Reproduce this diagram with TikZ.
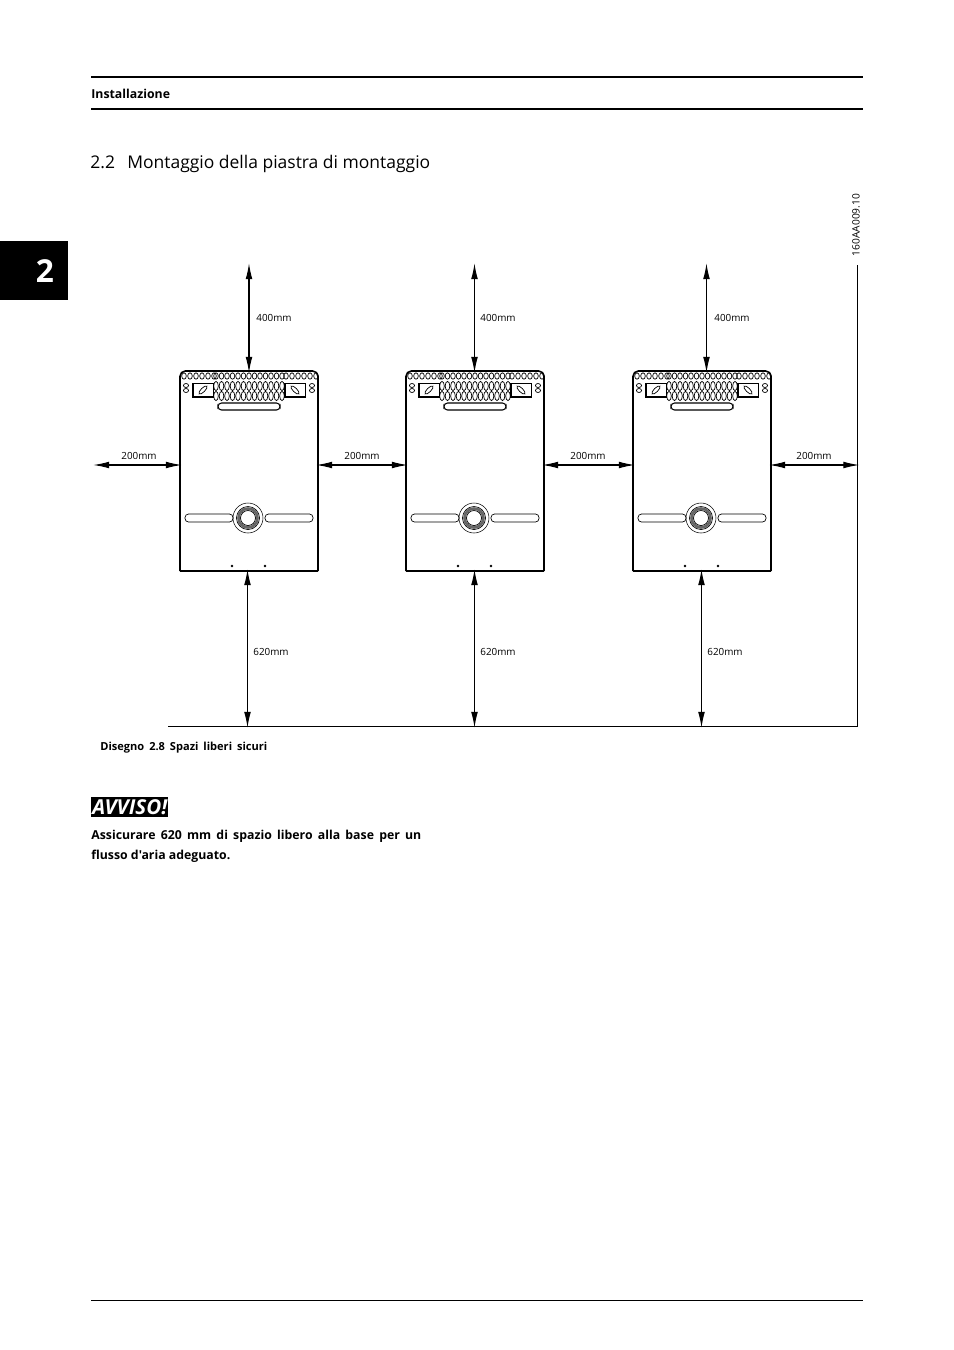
\documentclass[tikz,border=0pt]{standalone}
\usepackage{fontspec}
\setmainfont{Open Sans}[Ligatures=TeXOff]
\usetikzlibrary{arrows.meta}
\tikzset{
    dim/.style={line width=0.6pt,shorten >=-1pt,shorten <=-1pt,{Latex[length=9pt,width=3.8pt]}-{Latex[length=9pt,width=3.8pt]}},
    dimlabel/.style={font=\fontsize{5.6}{7}\selectfont,inner sep=0pt},
    hole/.style={line width=0.4pt},
    plate/.pic={
        %% outline
        \draw[line width=0.9pt,rounded corners=3pt] (0,200) -- (0,0) -- (138,0) -- (138,200);
        \draw[line width=1.3pt] (0,200) -- (138,200);
        \coordinate (-top) at (69,0);
        \coordinate (-bottom) at (69,200);
        \coordinate (-left) at (0,94);
        \coordinate (-right) at (138,94);
        %% top rows of holes
        \foreach \x in {4,10,...,34} \draw[hole] (\x,5) ellipse (2.3 and 3.2);
        \foreach \x in {36,41.5,...,104} {
            \draw[hole] (\x,5) ellipse (2.3 and 3.2);
            \draw[hole] (\x,15) ellipse (2.3 and 4.6);
            \draw[hole] (\x,25) ellipse (2.3 and 4.6);
        }
        \foreach \x in {106,112,...,136} \draw[hole] (\x,5) ellipse (2.3 and 3.2);
        \foreach \x in {6,132} {
            \draw[hole] (\x,14.5) ellipse (2.6 and 2);
            \draw[hole] (\x,19.5) ellipse (2.6 and 2);
        }
        %% boxes
        \draw[fill=white,line width=0.5pt] (12,12) rectangle (33,26);
        \draw[line width=1.5pt] (13,12) -- (13,26) -- (33,26);
        \draw[fill=white,line width=0.5pt] (105,12) rectangle (125,26);
        \draw[line width=1.5pt] (105,12) -- (105,26) -- (125,26);
        \draw[hole,rotate around={45:(23,19)}] (23,19) ellipse (5.5 and 2);
        \draw[hole,rotate around={-45:(115,19)}] (115,19) ellipse (5.5 and 2);
        %% slots
        \draw[line width=0.6pt,rounded corners=2pt,fill=white] (38,32) rectangle (100,39);
        \draw[line width=0.4pt,rounded corners=2pt] (5,143) rectangle (53,151);
        \draw[line width=0.4pt,rounded corners=2pt] (85,143) rectangle (133,151);
        %% centre ring
        \draw[line width=0.3pt] (68,147) circle (15);
        \draw[line width=0.4pt] (68,147) circle (11.5);
        \draw[line width=1.5pt,black!60] (68,147) circle (9.5);
        \draw[line width=0.4pt] (68,147) circle (7.5);
        %% two dots
        \fill (52,195) circle (1.3);
        \fill (85,195) circle (1.3);
    }
}
\begin{document}
\begin{tikzpicture}[x=0.02cm,y=-0.02cm]
    \useasboundingbox (0,0) rectangle (954,1350);
    %% page furniture
    \fill (0,241) rectangle (68,300);
    \node (tab) at (45,271) {\fontsize{18}{20}\selectfont\bfseries\color{white}2};
    \draw[line width=1.1pt] (91,77) -- (863,77);
    \draw[line width=1.1pt] (91,109) -- (863,109);
    \draw[line width=0.5pt] (91,1300) -- (863,1300);
    \node (running) [anchor=base west,inner sep=0pt,font=\fontsize{7}{9}\selectfont\bfseries] at (91,98) {Installazione};
    \node (heading) [anchor=base west,inner sep=0pt,font=\fontsize{9.95}{12}\selectfont] at (90,168) {2.2\hspace{7pt}Montaggio della piastra di montaggio};
    %% the three plates
    \pic (plateA) at (180,371) {plate};
    \pic (plateB) at (406,371) {plate};
    \pic (plateC) at (633,371) {plate};
    %% wall and floor
    \coordinate (wallTop) at (857.5,265);
    \coordinate (floorLeft) at (168,726.5);
    \coordinate (corner) at (857.5,726.5);
    \draw[line width=0.55pt] (wallTop) -- (corner) -- (floorLeft);
    \node (code) [rotate=90,anchor=center,inner sep=0pt,font=\fontsize{5.8}{7}\selectfont] at (856,225) {160AA009.10};
    %% clearance above
    \coordinate (topA) at (249,265);
    \coordinate (topB) at (474.5,265);
    \coordinate (topC) at (706.5,265);
    \draw[dim] (topA) -- (topA |- plateA-top);
    \draw[dim] (topB) -- (topB |- plateB-top);
    \draw[dim] (topC) -- (topC |- plateC-top);
    \node (topAtext) [dimlabel] at (274,318) {400mm};
    \node (topBtext) [dimlabel] at (498,318) {400mm};
    \node (topCtext) [dimlabel] at (732,318) {400mm};
    %% clearance below
    \coordinate (botA) at (247.5,726);
    \coordinate (botB) at (474.5,726);
    \coordinate (botC) at (701.5,726);
    \draw[dim] (botA |- plateA-bottom) -- (botA);
    \draw[dim] (botB |- plateB-bottom) -- (botB);
    \draw[dim] (botC |- plateC-bottom) -- (botC);
    \node (botAtext) [dimlabel] at (271,652) {620mm};
    \node (botBtext) [dimlabel] at (498,652) {620mm};
    \node (botCtext) [dimlabel] at (725,652) {620mm};
    %% clearance at the sides
    \coordinate (sideLeft) at (95,465);
    \draw[dim] (sideLeft) -- (plateA-left);
    \draw[dim] (plateA-right) -- (plateB-left);
    \draw[dim] (plateB-right) -- (plateC-left);
    \draw[dim] (plateC-right) -- (plateC-right -| wallTop);
    \node (sideAtext) [dimlabel] at (139,456) {200mm};
    \node (sideBtext) [dimlabel] at (362,456) {200mm};
    \node (sideCtext) [dimlabel] at (588,456) {200mm};
    \node (sideDtext) [dimlabel] at (814,456) {200mm};
    %% caption and notice
    \node (caption) [anchor=base west,inner sep=0pt,font=\fontsize{6.3}{8}\selectfont\bfseries] at (100,750) {\makebox[3.34cm][s]{Disegno 2.8 Spazi liberi sicuri}};
    \node (avviso) [anchor=north west,fill=black,text=white,inner sep=0pt,minimum width=1.54cm,minimum height=0.4cm,font=\fontsize{11.7}{13}\selectfont\bfseries\itshape] at (91,797) {AVVISO!};
    \node (notice) [anchor=north west,inner sep=0pt,text width=6.6cm,align=justify,font=\fontsize{7}{11.3}\selectfont\bfseries] at (91,830) {Assicurare 620 mm di spazio libero alla base per un\linebreak flusso d'aria adeguato.};
\end{tikzpicture}
\end{document}
